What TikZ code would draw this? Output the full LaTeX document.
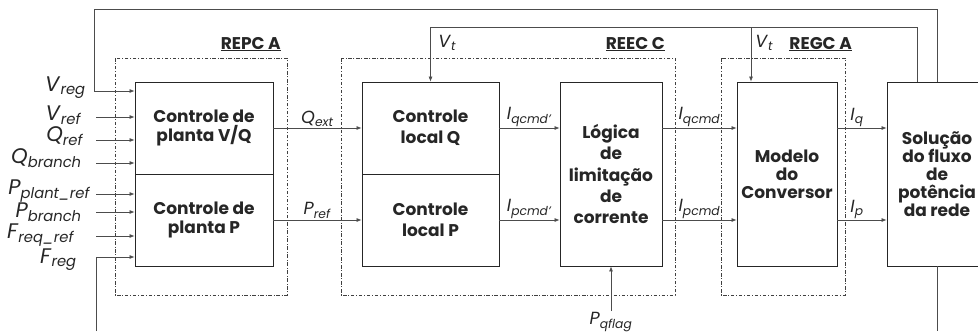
\documentclass[tikz,border=0pt]{standalone}
\usepackage{fontspec}
\setmainfont{Poppins}
\usetikzlibrary{arrows.meta}

\newcommand{\sinal}[2]{\textit{#1}\textsubscript{\textit{#2}}}

\begin{document}
\begin{tikzpicture}[x=0.03cm,y=-0.03cm,
	bloco/.style={draw=black!85,line width=0.7pt,align=center,inner sep=0pt,
		font=\bfseries\fontsize{14.5}{15.5}\selectfont,text=black!85},
	largo/.style={font=\bfseries\fontsize{14.5}{18}\selectfont},
	grupo/.style={draw=black!75,line width=0.5pt,dash pattern=on 3pt off 1.5pt on 0.8pt off 1.5pt},
	linha/.style={draw=black!70,line width=0.6pt},
	sinal/.style={linha,-{Latex[length=1.5mm,width=1.2mm]}},
	rot/.style={font=\fontsize{15}{16}\selectfont,inner sep=1pt,text=black!85},
	entrada/.style={rot,font=\fontsize{18}{19}\selectfont,anchor=east,inner sep=0pt,
		text height=0.7em,text depth=0.3em},
	titulo/.style={font=\bfseries\fontsize{14.5}{16}\selectfont,inner sep=0pt,text=black!85}]
	\useasboundingbox (0,0) rectangle (978,331);

	% blocos
	\node[bloco,minimum width=4.14cm,minimum height=2.76cm] (pvq) at (204,128) {Controle de\\planta V/Q};
	\node[bloco,minimum width=4.14cm,minimum height=2.76cm] (pp) at (204,220) {Controle de\\planta P};
	\node[bloco,largo,minimum width=4.11cm,minimum height=2.76cm] (lq) at (430.5,128) {Controle\\local Q};
	\node[bloco,largo,minimum width=4.11cm,minimum height=2.76cm] (lp) at (430.5,220) {Controle\\local P};
	\node[bloco,largo,minimum width=3.06cm,minimum height=5.52cm] (lim) at (611,174) {Lógica\\de\\limitação\\de\\corrente};
	\node[bloco,minimum width=3cm,minimum height=5.52cm] (conv) at (787,174) {Modelo\\do\\Conversor};
	\node[bloco,minimum width=3cm,minimum height=5.52cm] (rede) at (937,174) {Solução\\do fluxo\\de\\potência\\da rede};

	% grupos
	\draw[grupo] (115,58) rectangle (287,295);
	\draw[grupo] (341,58) rectangle (675,295);
	\draw[grupo] (721,58) rectangle (845,295);
	\node[titulo,anchor=base east] (trepc) at (281,49) {\underline{REPC A}};
	\node[titulo,anchor=base east] (treec) at (665,49) {\underline{REEC C}};
	\node[titulo,anchor=base east] (tregc) at (852,49) {\underline{REGC A}};

	% entradas
	\coordinate (topo) at (94,9.5);
	\coordinate (evreg) at (94,91);
	\coordinate (evref) at (96,117);
	\coordinate (eqref) at (96,140);
	\coordinate (eqbr) at (96,163);
	\coordinate (epplant) at (96,194);
	\coordinate (epbr) at (96,212);
	\coordinate (efref) at (96,236);
	\coordinate (efreg) at (96,257);
	\coordinate (baixo) at (96,331);

	\draw[sinal] (rede.north) |- (topo) -- (evreg) -- (evreg -| pvq.west);
	\draw[sinal] (evref) -- (evref -| pvq.west);
	\draw[sinal] (eqref) -- (eqref -| pvq.west);
	\draw[sinal] (eqbr) -- (eqbr -| pvq.west);
	\draw[sinal] (epplant) -- (epplant -| pp.west);
	\draw[sinal] (epbr) -- (epbr -| pp.west);
	\draw[sinal] (efref) -- (efref -| pp.west);
	\draw[sinal] (baixo) -- (efreg) -- (efreg -| pp.west);

	\node[entrada] (lvreg) at (86,89) {\sinal{V}{reg}};
	\node[entrada] (lvref) at (82,118) {\sinal{V}{ref}};
	\node[entrada] (lqref) at (84,139) {\sinal{Q}{ref}};
	\node[entrada] (lqbr) at (82,161) {\sinal{Q}{branch}};
	\node[entrada] (lpplant) at (91,192) {\sinal{P}{plant\_ref}};
	\node[entrada] (lpbr) at (82,215) {\sinal{P}{branch}};
	\node[entrada] (lfref) at (75,236) {\sinal{F}{req\_ref}};
	\node[entrada] (lfreg) at (77,261) {\sinal{F}{reg}};

	% sinais entre blocos
	\draw[sinal] (pvq.east) -- node[rot,above] (lqext) {\sinal{Q}{ext}} (lq.west);
	\draw[sinal] (pp.east) -- node[rot,above] (lpref) {\sinal{P}{ref}} (lp.west);
	\draw[sinal] (lq.east) -- node[rot,above] (liq1) {\sinal{I}{qcmd'}} (lq.east -| lim.west);
	\draw[sinal] (lp.east) -- node[rot,above] (lip1) {\sinal{I}{pcmd'}} (lp.east -| lim.west);
	\draw[sinal] (lq.east -| lim.east) -- node[rot,above] (liq2) {\sinal{I}{qcmd}} (lq.east -| conv.west);
	\draw[sinal] (lp.east -| lim.east) -- node[rot,above] (lip2) {\sinal{I}{pcmd}} (lp.east -| conv.west);
	\draw[sinal] (lq.east -| conv.east) -- node[rot,above,pos=0.4] (liq) {\sinal{I}{q}} (lq.east -| rede.west);
	\draw[sinal] (lp.east -| conv.east) -- node[rot,above,pos=0.4] (lip) {\sinal{I}{p}} (lp.east -| rede.west);

	% realimentacao V_t
	\coordinate (cvt) at (917,27);
	\coordinate (cvt2) at (751,27);
	\draw[sinal] (cvt |- rede.north) -- (cvt) -| (lq.north);
	\draw[sinal] (cvt2) -- (cvt2 |- conv.north);
	\node[rot,anchor=west] (lvt1) at (437,43) {\sinal{V}{t}};
	\node[rot,anchor=west] (lvt2) at (754,43) {\sinal{V}{t}};

	% P_qflag e saida inferior
	\coordinate (cpq) at (611,311);
	\draw[sinal] (cpq) -- (lim.south);
	\node[rot,anchor=north] (lpq) at (cpq) {\sinal{P}{qflag}};
	\coordinate (cbaixo) at (937,331);
	\draw[linha] (rede.south) -- (cbaixo);
\end{tikzpicture}
\end{document}
